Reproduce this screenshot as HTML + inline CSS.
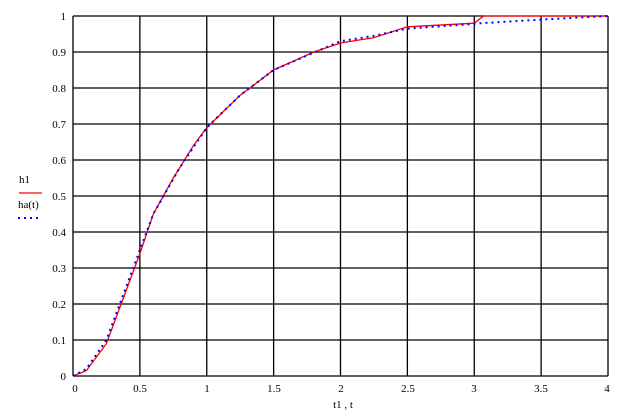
<!DOCTYPE html>
<html><head><style>
body{margin:0;background:#fff;width:626px;height:412px;overflow:hidden}
svg text{font-family:"Liberation Serif",serif;font-size:11px;fill:#000}
</style></head><body>
<svg id="s" width="626" height="412" xmlns="http://www.w3.org/2000/svg">
<g id="g" stroke="#000" stroke-width="1.3"></g>
<g font-family="Liberation Serif">
<text x="66" y="20" text-anchor="end">1</text>
<text x="66" y="56" text-anchor="end">0.9</text>
<text x="66" y="92" text-anchor="end">0.8</text>
<text x="66" y="128" text-anchor="end">0.7</text>
<text x="66" y="164" text-anchor="end">0.6</text>
<text x="66" y="200" text-anchor="end">0.5</text>
<text x="66" y="236" text-anchor="end">0.4</text>
<text x="66" y="272" text-anchor="end">0.3</text>
<text x="66" y="308" text-anchor="end">0.2</text>
<text x="66" y="344" text-anchor="end">0.1</text>
<text x="66" y="380" text-anchor="end">0</text>
<text x="75" y="392" text-anchor="middle">0</text>
<text x="140" y="392" text-anchor="middle">0.5</text>
<text x="207" y="392" text-anchor="middle">1</text>
<text x="274" y="392" text-anchor="middle">1.5</text>
<text x="341" y="392" text-anchor="middle">2</text>
<text x="408" y="392" text-anchor="middle">2.5</text>
<text x="474" y="392" text-anchor="middle">3</text>
<text x="541" y="392" text-anchor="middle">3.5</text>
<text x="607" y="392" text-anchor="middle">4</text>
<text x="343" y="408" text-anchor="middle">t1 , t</text>
<text x="19" y="183" font-size="10">h1</text>
<line x1="19" y1="193" x2="42" y2="193" stroke="#f00" stroke-width="1.3"/>
<text x="18" y="208" font-size="10">ha(t)</text>
<line x1="18" y1="218" x2="42" y2="218" stroke="#00f" stroke-width="2" stroke-dasharray="2,4"/>
</g>
</svg>
<script>
var g=document.getElementById('g'),s=document.getElementById('s'),ns="http://www.w3.org/2000/svg";
function X(t){return 73+t*133.75}function Y(v){return 376-v*360}
var h='';
for(var i=0;i<=8;i++){var x=X(i*0.5);h+='<line x1="'+x+'" y1="16" x2="'+x+'" y2="376"/>';}
for(var j=0;j<=10;j++){var y=Y(j*0.1);h+='<line x1="73" y1="'+y+'" x2="608" y2="'+y+'"/>';}
g.innerHTML=h;
var b=[[0,0],[0.1,0.02],[0.25,0.1],[0.4,0.25],[0.5,0.35],[0.6,0.45],[0.8,0.58],[1,0.69],[1.25,0.78],[1.5,0.85],[1.75,0.89],[2,0.93],[2.25,0.945],[2.5,0.965],[3,0.978],[3.05,0.98],[3.5,0.99],[4,1]];
var r=[[0,0],[0.1,0.015],[0.25,0.09],[0.3,0.14],[0.4,0.24],[0.5,0.34],[0.6,0.45],[0.75,0.55],[0.9,0.64],[1,0.69],[1.25,0.78],[1.5,0.85],[1.8,0.9],[2,0.925],[2.25,0.94],[2.5,0.97],[3,0.98],[3.07,1],[4,1]];
function pts(a){return a.map(function(p){return X(p[0]).toFixed(1)+','+Y(p[1]).toFixed(1)}).join(' ')}
var e=document.createElementNS(ns,'polyline');e.setAttribute('points',pts(r));e.setAttribute('fill','none');e.setAttribute('stroke','#f00');e.setAttribute('stroke-width','1.3');s.appendChild(e);
e=document.createElementNS(ns,'polyline');e.setAttribute('points',pts(b));e.setAttribute('fill','none');e.setAttribute('stroke','#00f');e.setAttribute('stroke-width','2');e.setAttribute('stroke-dasharray','2,4');s.appendChild(e);
</script>
</body></html>
